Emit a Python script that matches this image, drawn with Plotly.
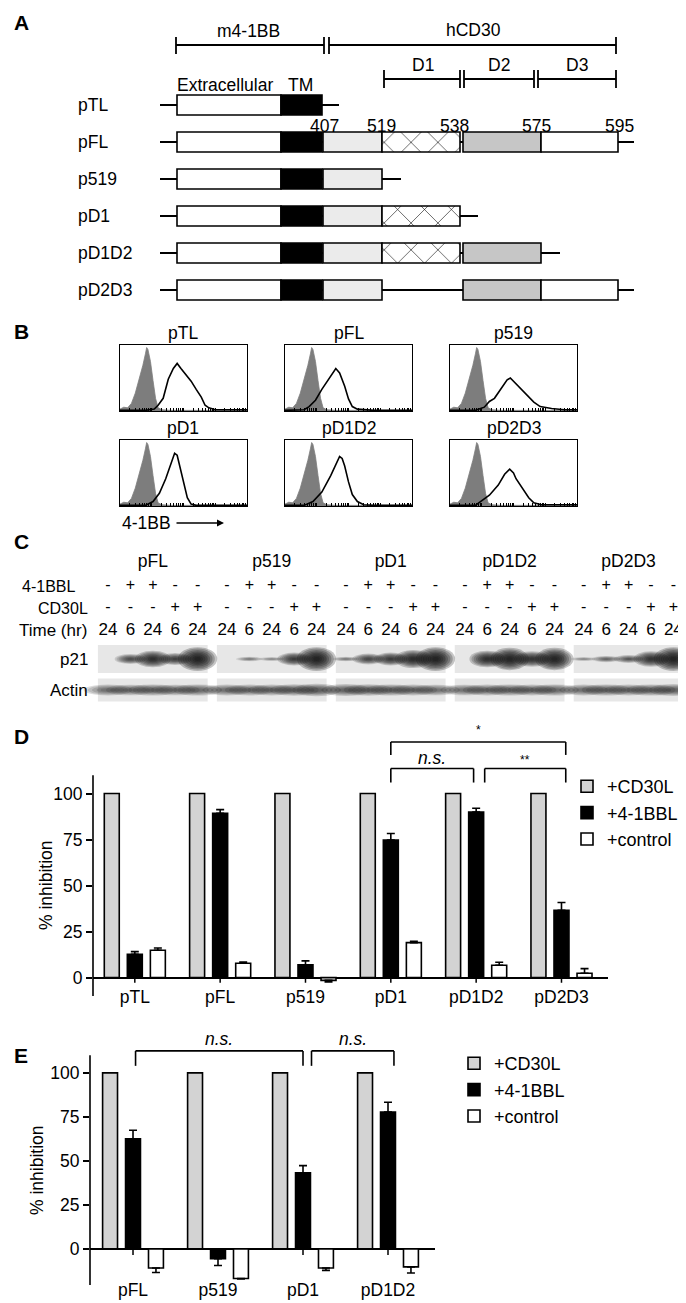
import plotly.graph_objects as go

W, H = 686, 1303
FONT = "Liberation Sans, Arial, Helvetica, sans-serif"


def fx(p):
    return p / W


def fy(p):
    return 1 - p / H


def dx(a, b):
    return [a / W, b / W]


def dy(top, bottom):
    return [1 - bottom / H, 1 - top / H]


# ---------------- Panel A data (schematic) ----------------
constructs = ["pTL", "pFL", "p519", "pD1", "pD1D2", "pD2D3"]
segment_names = ["Extracellular", "TM", "407-519", "D1", "D2", "D3"]
segment_start = [169, 273, 315, 374, 455, 533]
segment_end = [273, 314, 374, 452, 533, 610]
segment_colors = ["white", "black", "#ebebeb", "white", "#c6c6c6", "white"]
segment_hatched = [False, False, False, True, False, False]
seg_pTL = ["Extracellular", "TM"]
seg_pFL = ["Extracellular", "TM", "407-519", "D1", "D2", "D3"]
seg_p519 = ["Extracellular", "TM", "407-519"]
seg_pD1 = ["Extracellular", "TM", "407-519", "D1"]
seg_pD1D2 = ["Extracellular", "TM", "407-519", "D1", "D2"]
seg_pD2D3 = ["Extracellular", "TM", "407-519", "D2", "D3"]
tail_start = [152, 152, 152, 152, 152, 152]
tail_end = [331, 626, 393, 470, 552, 626]
residue_labels = ["407", "519", "538", "575", "595"]
residue_pos = [316, 373, 446, 528, 611]

# ---------------- Panel B data (flow histograms) ----------------
flow_names = ["pTL", "pFL", "p519", "pD1", "pD1D2", "pD2D3"]
iso_log = [0, 0.12, 0.24, 0.36, 0.48, 0.6, 0.72, 0.8, 0.84, 0.88, 0.96, 1.04, 1.12, 1.2, 1.32, 1.6, 2.4, 4.0]
iso_counts = [0.03, 0.06, 0.05, 0.12, 0.28, 0.48, 0.72, 0.9, 1.0, 0.97, 0.78, 0.48, 0.2, 0.05, 0.02, 0.01, 0.01, 0.01]
pTL_log = [0, 0.8, 1.08, 1.2, 1.36, 1.52, 1.68, 1.8, 1.92, 2.08, 2.24, 2.4, 2.56, 2.68, 2.8, 3.0, 3.4, 4.0]
pTL_counts = [0.01, 0.01, 0.03, 0.09, 0.2, 0.5, 0.67, 0.75, 0.67, 0.57, 0.47, 0.34, 0.22, 0.09, 0.05, 0.02, 0.02, 0.02]
pFL_log = [0, 0.6, 0.76, 0.96, 1.16, 1.36, 1.52, 1.6, 1.72, 1.88, 2.0, 2.12, 2.28, 2.8, 4.0]
pFL_counts = [0.01, 0.02, 0.07, 0.17, 0.34, 0.49, 0.62, 0.67, 0.6, 0.39, 0.19, 0.07, 0.03, 0.01, 0.01]
p519_log = [0, 0.8, 1.08, 1.24, 1.4, 1.52, 1.68, 1.8, 1.9, 2.0, 2.08, 2.24, 2.36, 2.52, 2.64, 2.84, 3.2, 3.6, 4.0]
p519_counts = [0.01, 0.01, 0.06, 0.15, 0.2, 0.29, 0.4, 0.49, 0.52, 0.47, 0.42, 0.34, 0.29, 0.2, 0.14, 0.07, 0.04, 0.02, 0.02]
pD1_log = [0, 0.8, 1.04, 1.24, 1.44, 1.6, 1.72, 1.8, 1.88, 2.0, 2.12, 2.24, 2.4, 4.0]
pD1_counts = [0.01, 0.01, 0.07, 0.2, 0.43, 0.68, 0.83, 0.8, 0.63, 0.38, 0.13, 0.03, 0.01, 0.01]
pD1D2_log = [0, 0.6, 0.88, 1.16, 1.44, 1.6, 1.72, 1.8, 1.88, 2.0, 2.12, 2.28, 2.48, 2.8, 4.0]
pD1D2_counts = [0.01, 0.01, 0.07, 0.22, 0.48, 0.65, 0.78, 0.75, 0.63, 0.38, 0.18, 0.07, 0.02, 0.01, 0.01]
pD2D3_log = [0, 0.8, 0.96, 1.24, 1.52, 1.72, 1.88, 2.0, 2.08, 2.28, 2.48, 2.64, 2.88, 4.0]
pD2D3_counts = [0.01, 0.01, 0.07, 0.17, 0.33, 0.5, 0.58, 0.52, 0.43, 0.28, 0.13, 0.05, 0.02, 0.02]

# ---------------- Panel C data (western blot band intensities) ----------------
blot_constructs = ["pFL", "p519", "pD1", "pD1D2", "pD2D3"]
lane_41BBL = ["-", "+", "+", "-", "-"]
lane_CD30L = ["-", "-", "-", "+", "+"]
lane_time = ["24", "6", "24", "6", "24"]
p21_pFL = [0.0, 0.45, 0.75, 0.55, 1.0]
p21_p519 = [0.0, 0.12, 0.05, 0.6, 1.0]
p21_pD1 = [0.12, 0.5, 0.6, 0.8, 1.0]
p21_pD1D2 = [0.0, 0.75, 0.95, 0.7, 0.95]
p21_pD2D3 = [0.06, 0.25, 0.35, 0.7, 1.0]
actin_pFL = [0.5, 0.45, 0.55, 0.45, 0.55]
actin_p519 = [0.5, 0.5, 0.5, 0.6, 0.75]
actin_pD1 = [0.65, 0.6, 0.55, 0.5, 0.45]
actin_pD1D2 = [0.45, 0.5, 0.55, 0.5, 0.55]
actin_pD2D3 = [0.5, 0.55, 0.5, 0.55, 0.65]

# ---------------- Panel D data ----------------
D_categories = ["pTL", "pFL", "p519", "pD1", "pD1D2", "pD2D3"]
D_CD30L = [100, 100, 100, 100, 100, 100]
D_41BBL = [12.7, 89.3, 6.9, 74.8, 89.9, 36.6]
D_41BBL_err = [1.4, 2.0, 2.2, 3.5, 2.1, 4.2]
D_control = [14.9, 7.8, -1.5, 19.0, 6.7, 2.4]
D_control_err = [1.2, 0.7, 0.8, 0.7, 1.6, 2.5]

# ---------------- Panel E data ----------------
E_categories = ["pFL", "p519", "pD1", "pD1D2"]
E_CD30L = [100, 100, 100, 100]
E_41BBL = [62.5, -5.6, 43.2, 77.8]
E_41BBL_err = [4.9, 3.8, 4.1, 5.5]
E_control = [-10.8, -16.8, -10.8, -10.2]
E_control_err = [2.6, 0.3, 1.4, 3.5]

series_names = ["+CD30L", "+4-1BBL", "+control"]
series_colors = ["#d3d3d3", "black", "white"]

# =====================================================================
FS = 17.5
fig = go.Figure()
shapes = []
ann = []


def text(x, y, s, size=FS, xanchor="center", yanchor="middle", angle=0):
    ann.append(dict(x=fx(x), y=fy(y), xref="paper", yref="paper", text=s, showarrow=False,
                    xanchor=xanchor, yanchor=yanchor, textangle=angle,
                    font=dict(size=size, family=FONT, color="black")))


def pline(x0, y0, x1, y1, w=1.8):
    shapes.append(dict(type="line", xref="paper", yref="paper", x0=fx(x0), y0=fy(y0),
                       x1=fx(x1), y1=fy(y1), line=dict(color="black", width=w)))


# panel letters
for lab, yy in [("A", 15), ("B", 323), ("C", 533), ("D", 728), ("E", 1047)]:
    text(13, yy, "<b>%s</b>" % lab, size=21)

# ---------------- Panel A ----------------
seg_lists = {"pTL": seg_pTL, "pFL": seg_pFL, "p519": seg_p519,
             "pD1": seg_pD1, "pD1D2": seg_pD1D2, "pD2D3": seg_pD2D3}
for k, s in enumerate(segment_names):
    ys = [i for i, c in enumerate(constructs) if s in seg_lists[c]]
    marker = dict(color=segment_colors[k], line=dict(color="black", width=1.6))
    if segment_hatched[k]:
        marker["pattern"] = dict(shape="x", size=19, solidity=0.06, fgcolor="black",
                                 bgcolor="white", fillmode="replace")
    fig.add_trace(go.Bar(orientation="h", y=ys, x=[segment_end[k] - segment_start[k]] * len(ys),
                         base=[segment_start[k]] * len(ys), width=0.54, offset=-0.27,
                         marker=marker, xaxis="x", yaxis="y", showlegend=False, hoverinfo="skip"))
for i, c in enumerate(constructs):
    shapes.append(dict(type="line", xref="x", yref="y", x0=tail_start[i], x1=tail_end[i], y0=i, y1=i,
                       layer="below", line=dict(color="black", width=2)))
    text(68, 97 + 37 * i, c, xanchor="left")

# brackets
pline(168, 37, 316, 37)
pline(168, 29, 168, 46)
pline(316, 29, 316, 46)
pline(321, 29, 321, 46)
pline(321, 37, 608, 37)
pline(608, 29, 608, 46)
pline(376, 71, 452, 71)
pline(376, 62, 376, 80)
pline(452, 62, 452, 80)
pline(456, 62, 456, 80)
pline(456, 71, 526, 71)
pline(526, 62, 526, 80)
pline(530, 62, 530, 80)
pline(530, 71, 608, 71)
pline(608, 62, 608, 80)
text(241, 23, "m4-1BB")
text(465, 22, "hCD30")
text(415, 57, "D1")
text(491, 57, "D2")
text(569, 57, "D3")
text(167, 77, "Extracellular", xanchor="left")
text(292, 77, "TM")
for lab, pos in zip(residue_labels, residue_pos):
    text(pos, 118, lab)

# ---------------- Panel B ----------------
col_left = [112, 277, 442]
row_top = [337, 432]
box_w, box_h = 127, 66
stain = {"pTL": (pTL_log, pTL_counts), "pFL": (pFL_log, pFL_counts), "p519": (p519_log, p519_counts),
         "pD1": (pD1_log, pD1_counts), "pD1D2": (pD1D2_log, pD1D2_counts), "pD2D3": (pD2D3_log, pD2D3_counts)}
layout_axes = {}
for j, name in enumerate(flow_names):
    col, row = j % 3, j // 3
    n = j + 2
    xa, ya = "x%d" % n, "y%d" % n
    fig.add_trace(go.Scatter(x=[10 ** v for v in iso_log], y=iso_counts, mode="lines", fill="tozeroy",
                             fillcolor="#7d7d7d", line=dict(color="#7d7d7d", width=0.8),
                             xaxis=xa, yaxis=ya, showlegend=False, hoverinfo="skip"))
    lx, cy = stain[name]
    fig.add_trace(go.Scatter(x=[10 ** v for v in lx], y=cy, mode="lines",
                             line=dict(color="black", width=1.6),
                             xaxis=xa, yaxis=ya, showlegend=False, hoverinfo="skip"))
    layout_axes["xaxis%d" % n] = dict(domain=dx(col_left[col], col_left[col] + box_w), type="log",
                                      range=[0, 4], anchor=ya, showline=True, mirror=True,
                                      linecolor="black", linewidth=1, ticks="inside", ticklen=3,
                                      tickwidth=1, tickcolor="black", dtick="D1", showticklabels=False,
                                      showgrid=False, zeroline=False)
    layout_axes["yaxis%d" % n] = dict(domain=dy(row_top[row], row_top[row] + box_h), range=[0, 1.04],
                                      anchor=xa, showline=True, mirror=True, linecolor="black",
                                      linewidth=1, ticks="", showticklabels=False, showgrid=False,
                                      zeroline=False)
    text(col_left[col] + box_w / 2, row_top[row] - 12, name)

text(112, 515, "4-1BB", xanchor="left")
ann.append(dict(x=fx(216), y=fy(515), ax=-49, ay=0, xref="paper", yref="paper",
                axref="pixel", ayref="pixel", showarrow=True, arrowhead=2, arrowsize=1,
                arrowwidth=1.4, arrowcolor="black", text=""))

# ---------------- Panel C ----------------
p21_all = [p21_pFL, p21_p519, p21_pD1, p21_pD1D2, p21_pD2D3]
actin_all = [actin_pFL, actin_p519, actin_pD1, actin_pD1D2, actin_pD2D3]
lane_px = 22.4
lane0_px = 100
panel_step = 5.31
y_hdr, y_bbl, y_cd, y_time, y_p21, y_act = 555, 578, 600, 623, 651, 682
p21_layers = [1.25, 1.1, 0.95, 0.8, 0.65, 0.5, 0.35, 0.2]
actin_layers = [1.15, 0.95, 0.75, 0.55, 0.35]
lx_all, bbl_t, cd_t, time_t = [], [], [], []
for p, cname in enumerate(blot_constructs):
    base = p * panel_step
    shapes.append(dict(type="rect", xref="x8", yref="y8", x0=base - 0.45, x1=base + 4.45,
                       y0=y_p21 - 14, y1=y_p21 + 14, fillcolor="#e7e7e7", line=dict(width=0), layer="below"))
    shapes.append(dict(type="rect", xref="x8", yref="y8", x0=base - 0.45, x1=base + 4.45,
                       y0=y_act - 11.5, y1=y_act + 11.5, fillcolor="#e7e7e7", line=dict(width=0), layer="below"))
    for i in range(5):
        xl = base + i
        lx_all.append(xl)
        bbl_t.append(lane_41BBL[i])
        cd_t.append(lane_CD30L[i])
        time_t.append(lane_time[i])
        I = p21_all[p][i]
        if I > 0:
            w = 0.9 + 0.5 * I
            h = 3 + 16 * I ** 1.5
            for sc in p21_layers:
                shapes.append(dict(type="circle", xref="x8", yref="y8",
                                   x0=xl - w * sc / 2, x1=xl + w * sc / 2,
                                   y0=y_p21 - h * sc / 2, y1=y_p21 + h * sc / 2,
                                   fillcolor="#0c0c0c", opacity=min(1.0, 0.2 * (0.3 + 0.9 * I)),
                                   line=dict(width=0)))
        A = actin_all[p][i]
        w = 1.9
        h = 7 + 5 * A
        for sc in actin_layers:
            shapes.append(dict(type="circle", xref="x8", yref="y8",
                               x0=xl - w * sc / 2, x1=xl + w * sc / 2,
                               y0=y_act - h * sc / 2, y1=y_act + h * sc / 2,
                               fillcolor="#1a1a1a", opacity=0.17 * (0.5 + 0.8 * A),
                               line=dict(width=0)))
hdr_x = [p * panel_step + 2 for p in range(len(blot_constructs))]
fig.add_trace(go.Scatter(x=hdr_x, y=[y_hdr] * len(hdr_x), text=blot_constructs, mode="text",
                         textfont=dict(family=FONT, size=FS, color="black"),
                         xaxis="x8", yaxis="y8", showlegend=False, hoverinfo="skip"))
for yy, tt, sz in [(y_bbl, bbl_t, 16), (y_cd, cd_t, 16), (y_time, time_t, 17)]:
    fig.add_trace(go.Scatter(x=lx_all, y=[yy] * len(lx_all), text=tt, mode="text",
                             textfont=dict(family=FONT, size=sz, color="black"),
                             xaxis="x8", yaxis="y8", showlegend=False, hoverinfo="skip"))
text(69, y_bbl, "4-1BBL", 16, xanchor="right")
text(82, y_cd, "CD30L", 16, xanchor="right")
text(81, y_time, "Time (hr)", 17, xanchor="right")
text(82, y_p21, "p21", 17, xanchor="right")
text(82, y_act, "Actin", 17, xanchor="right")

# ---------------- Panels D and E ----------------
def add_bars(cats, vals_list, errs_list, xa, ya, legend):
    for k in range(3):
        vals = vals_list[k]
        errs = errs_list[k]
        kw = {}
        if errs is not None:
            up = [e if v >= 0 else 0 for v, e in zip(vals, errs)]
            dn = [e if v < 0 else 0 for v, e in zip(vals, errs)]
            kw["error_y"] = dict(type="data", symmetric=False, array=up, arrayminus=dn,
                                 color="black", thickness=1.6, width=4)
        fig.add_trace(go.Bar(x=cats, y=vals, name=series_names[k],
                             marker=dict(color=series_colors[k], line=dict(color="black", width=1.6)),
                             xaxis=xa, yaxis=ya, legend=legend, showlegend=True, hoverinfo="skip", **kw))


add_bars(D_categories, [D_CD30L, D_41BBL, D_control], [None, D_41BBL_err, D_control_err],
         "x9", "y9", "legend")
add_bars(E_categories, [E_CD30L, E_41BBL, E_control], [None, E_41BBL_err, E_control_err],
         "x10", "y10", "legend2")

# axis lines and category ticks
shapes.append(dict(type="line", xref="x9 domain", yref="y9", x0=0, x1=0, y0=-10, y1=110,
                   line=dict(color="black", width=1.6)))
shapes.append(dict(type="line", xref="x10 domain", yref="y10", x0=0, x1=0, y0=-20.5, y1=110,
                   line=dict(color="black", width=1.6)))
for i in range(len(D_categories)):
    shapes.append(dict(type="line", xref="x9", yref="y9", x0=i, x1=i, y0=0, y1=-2.8,
                       line=dict(color="black", width=1.5)))
for i in range(len(E_categories)):
    shapes.append(dict(type="line", xref="x10", yref="y10", x0=i, x1=i, y0=0, y1=-3.5,
                       line=dict(color="black", width=1.5)))


def bracket(xa, ya, x0, x1, ytop, ybot, label, ty, size=FS, italic=True):
    for (a, b, c, d) in [(x0, ytop, x1, ytop), (x0, ytop, x0, ybot), (x1, ytop, x1, ybot)]:
        shapes.append(dict(type="line", xref=xa, yref=ya, x0=a, y0=b, x1=c, y1=d,
                           line=dict(color="black", width=1.6)))
    s = "<i>%s</i>" % label if italic else label
    ann.append(dict(x=(x0 + x1) / 2, y=ty, xref=xa, yref=ya, text=s, showarrow=False,
                    font=dict(family=FONT, size=size, color="black")))


bracket("x9", "y9", 3.0, 5.05, 128, 121, "*", 134.5, size=12, italic=False)
bracket("x9", "y9", 3.0, 3.97, 113.6, 106, "n.s.", 119.5)
bracket("x9", "y9", 4.1, 5.05, 113.6, 106, "**", 118.5, size=12, italic=False)
bracket("x10", "y10", 0.03, 2.0, 112.5, 104, "n.s.", 119.5)
bracket("x10", "y10", 2.1, 3.07, 112.5, 104, "n.s.", 119.5)

text(38, 877, "% inhibition", FS, angle=-90)
text(29, 1162, "% inhibition", FS, angle=-90)

afont = dict(family=FONT, size=FS, color="black")
layout_axes.update(
    xaxis=dict(domain=[0, 1], range=[0, W], visible=False, anchor="y"),
    yaxis=dict(domain=dy(0, 320), range=[(320 - 97) / 37, -97 / 37], visible=False, anchor="x"),
    xaxis8=dict(domain=[0, 1], range=[-lane0_px / lane_px, (W - lane0_px) / lane_px], visible=False,
                anchor="y8"),
    yaxis8=dict(domain=dy(540, 705), range=[705, 540], visible=False, anchor="x8"),
    xaxis9=dict(domain=dx(85, 600), range=[-0.49, 5.545], type="category", categoryarray=D_categories,
                anchor="free", position=fy(976), showline=False, ticks="", showgrid=False,
                zeroline=False, tickfont=afont),
    yaxis9=dict(domain=dy(700, 988), range=[-10, 146.5], anchor="x9", showline=False, ticks="outside",
                ticklen=6, tickwidth=1.6, tickcolor="black", tickvals=[0, 25, 50, 75, 100],
                showgrid=False, zeroline=True, zerolinecolor="black", zerolinewidth=1.6, tickfont=afont),
    xaxis10=dict(domain=dx(82, 427), range=[-0.506, 3.553], type="category", categoryarray=E_categories,
                 anchor="free", position=fy(1269), showline=False, ticks="",
                 showgrid=False, zeroline=False, tickfont=afont),
    yaxis10=dict(domain=dy(1020, 1277), range=[-20.5, 125.5], anchor="x10", showline=False,
                 ticks="outside", ticklen=6, tickwidth=1.6, tickcolor="black",
                 tickvals=[0, 25, 50, 75, 100], showgrid=False, zeroline=True, zerolinecolor="black",
                 zerolinewidth=1.6, tickfont=afont),
)

fig.update_layout(
    width=W, height=H, margin=dict(l=0, r=0, t=0, b=0),
    paper_bgcolor="white", plot_bgcolor="rgba(0,0,0,0)",
    font=dict(family=FONT, size=FS, color="black"),
    barmode="group", bargap=0.19, bargroupgap=0.35,
    showlegend=True,
    legend=dict(x=fx(559), y=fy(760), xanchor="left", yanchor="top", font=dict(family=FONT, size=18),
                bgcolor="rgba(0,0,0,0)", traceorder="normal"),
    legend2=dict(x=fx(446), y=fy(1037), xanchor="left", yanchor="top", font=dict(family=FONT, size=18),
                 bgcolor="rgba(0,0,0,0)", traceorder="normal"),
    shapes=shapes, annotations=ann,
    **layout_axes,
)

fig.write_html("out.html")
